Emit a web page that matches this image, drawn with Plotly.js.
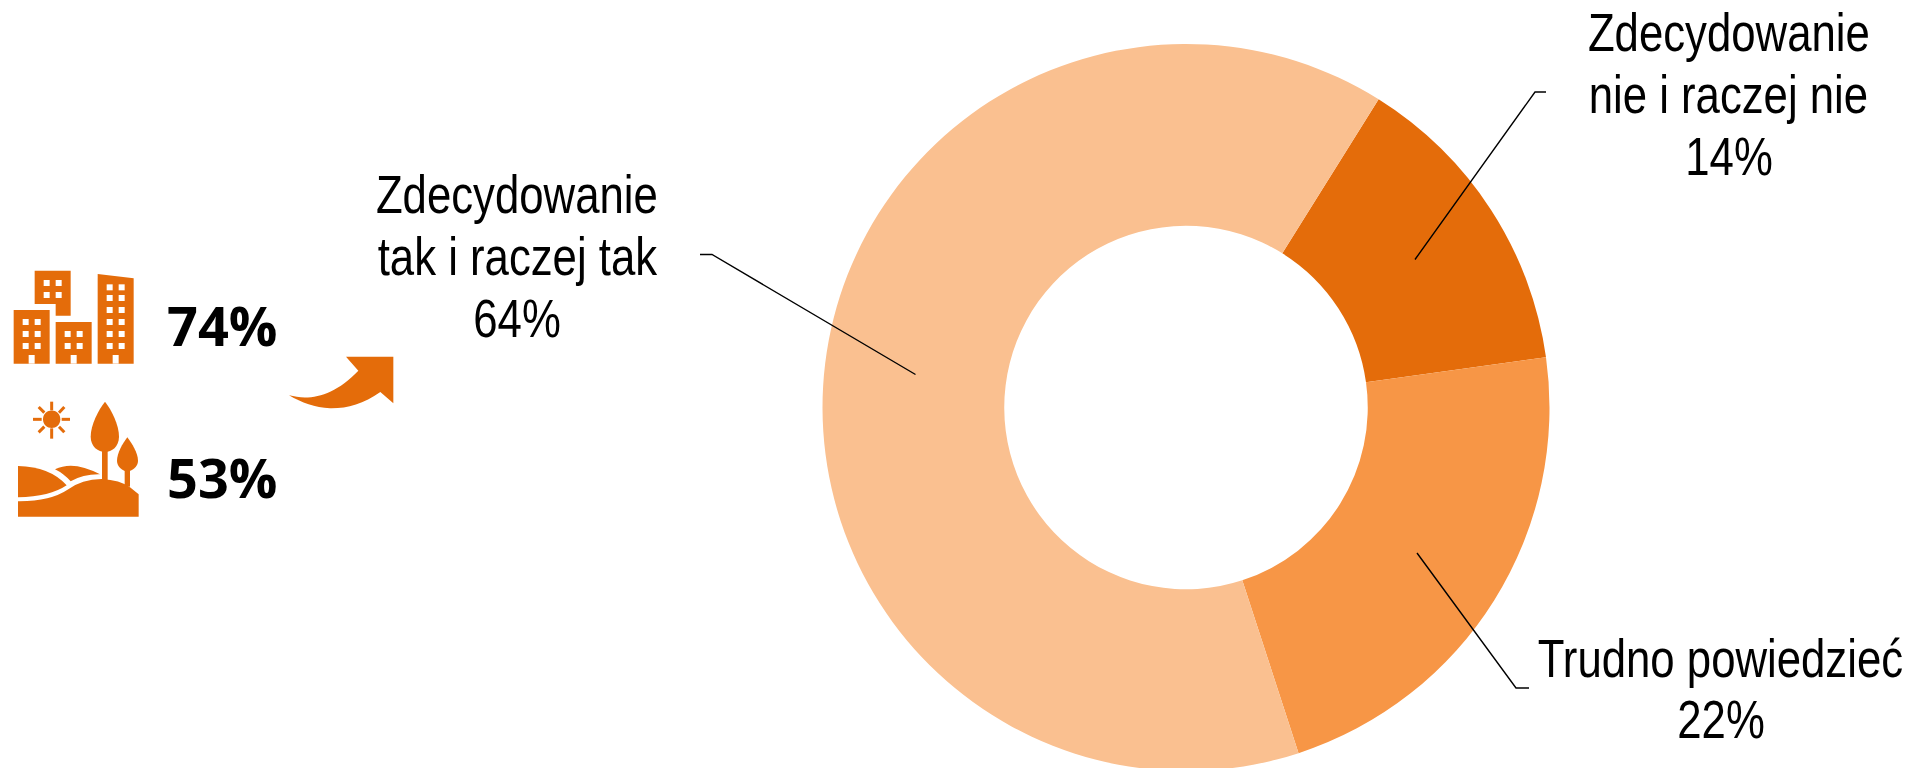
<!DOCTYPE html>
<html><head><meta charset="utf-8">
<script src="https://cdn.plot.ly/plotly-3.0.1.min.js"></script>
<style>html,body{margin:0;padding:0;background:#fff;width:1919px;height:768px;overflow:hidden}</style>
</head><body><div id="chart" style="width:1919px;height:815px"></div>
<script>
const categories = ["Zdecydowanie nie i raczej nie", "Trudno powiedzieć", "Zdecydowanie tak i raczej tak"];
const values = [13.9, 22.2, 63.9];
const sliceColors = ["#E46C0A", "#F79646", "#FAC090"];
const labelLines = [["Zdecydowanie", "nie i raczej nie"], ["Trudno powiedzieć"], ["Zdecydowanie", "tak i raczej tak"]];
const labelCenterX = [1728.5, 1720.5, 517];
const labelTopY = [33, 658, 195];
const sideValues = ["74%", "53%"];
const sideValueY = [325, 477];

const W = 1919, H = 815;
const LINE = 61.5, FS = 53, NARROW = 0.825;
const X = x => x / W, Y = y => 1 - y / H;
const black = "#000", orange = "#E46C0A";

const shapes = [];
const annotations = [];

function pathFrom(cmds, tx, ty) {
  return cmds.map(c => {
    if (typeof c === "string") return c;
    return X(tx(c[0])) + "," + Y(ty(c[1]));
  }).join(" ").replace(/ ([MLQCZ]) /g, " $1").replace(/^([MLQCZ]) /, "$1");
}
function addPath(cmds, fill, tx, ty) {
  shapes.push({type: "path", xref: "paper", yref: "paper", path: pathFrom(cmds, tx, ty),
    fillcolor: fill, line: {width: 0}});
}
const zx = x => x / 3, zy = y => 250 + y / 3;
function poly(pts, fill) {
  const c = [];
  pts.forEach((p, i) => { c.push(i ? "L" : "M"); c.push(p); });
  c.push("Z");
  addPath(c, fill || orange, zx, zy);
}
function rect(x0, y0, x1, y1, fill) {
  poly([[x0, y0], [x1, y0], [x1, y1], [x0, y1]], fill);
}
function windows(cols, rows) {
  cols.forEach(c => rows.forEach(r => rect(c, r, c + 18, r + 18, "#fff")));
}
function seg(pts, width, color) {
  const c = [];
  pts.forEach((p, i) => { c.push(i ? "L" : "M"); c.push(p); });
  shapes.push({type: "path", xref: "paper", yref: "paper", path: pathFrom(c, zx, zy),
    line: {width: width, color: color}});
}

// buildings icon
poly([[104,62],[212,62],[212,197],[167,197],[167,162],[104,162]]);
windows([131,167],[90,126]);
rect(41,180,149,341); rect(86,315,104,341,"#fff"); windows([68,104],[207,243,279]);
rect(167,216,275,341); rect(212,315,230,341,"#fff"); windows([194,230],[243,279]);
poly([[293,72],[401,85],[401,341],[293,341]]); rect(338,315,356,341,"#fff");
windows([320,356],[103,135,171,207,243,279]);

// arrow icon
addPath(["M",[867,436],"C",[930,452],[1000,440],[1075,362],"L",[1038,320],"L",[1180,320],"L",[1180,460],"L",[1141,426],
  "C",[1090,462],[1040,476],[990,475],"C",[945,473],[905,458],[867,436],"Z"], orange, zx, zy);

// landscape icon: sun
addPath(["M",[129,508],"C",[129,473],[181,473],[181,508],"C",[181,543],[129,543],[129,508],"Z"], orange, zx, zy);
[[[155,455],[155,481]],[[155,535],[155,566]],[[99,508],[125,508]],[[185,508],[210,508]],
 [[116,471],[133,488]],[[193,471],[177,488]],[[116,547],[133,530]],[[193,547],[177,530]]]
 .forEach(s => seg(s, 3, orange));
// trees
addPath(["M",[315,455],"C",[295,480],[272,525],[272,560],"C",[272,590],[295,606],[315,606],"C",[335,606],[357,590],[357,560],"C",[357,525],[335,480],[315,455],"Z"], orange, zx, zy);
rect(306,600,323,695);
addPath(["M",[382,562],"C",[368,580],[351,610],[351,632],"C",[351,650],[368,664],[382,664],"C",[396,664],[414,650],[414,632],"C",[414,610],[396,580],[382,562],"Z"], orange, zx, zy);
rect(374,660,390,710);
// hills
addPath(["M",[54,754],"Q",[150,755],[205,718],"Q",[245,688],[305,687],"Q",[360,690],[390,712],"L",[416,733],"L",[416,800],"L",[54,800],"Z"], orange, zx, zy);
addPath(["M",[54,648],"Q",[150,650],[200,706],"Q",[150,740],[54,742],"Z"], orange, zx, zy);
addPath(["M",[165,658],"Q",[220,630],[300,673],"Q",[250,672],[212,694],"Q",[190,670],[165,658],"Z"], orange, zx, zy);

// leader lines
const leaders = [
  [[1546,92],[1535,92],[1415,259.5]],
  [[1529,688],[1516,688],[1417,553]],
  [[700,254.5],[712,254.5],[915.5,374.5]]
];
leaders.forEach(l => {
  shapes.push({type: "path", xref: "paper", yref: "paper",
    path: l.map((p, i) => (i ? "L" : "M") + X(p[0]) + "," + Y(p[1])).join(" "),
    line: {width: 1.4, color: black}});
});

// slice labels
categories.forEach((cat, i) => {
  const lines = labelLines[i].concat([Math.round(values[i]) + "%"]);
  lines.forEach((t, j) => annotations.push({
    xref: "paper", yref: "paper", x: X(labelCenterX[i]), y: Y(labelTopY[i] + j * LINE),
    xanchor: "center", yanchor: "middle", showarrow: false, text: t,
    font: {family: "'Liberation Sans',Arial,sans-serif", size: FS, color: black}
  }));
});
// side figures
sideValues.forEach((t, i) => annotations.push({
  xref: "paper", yref: "paper", x: X(165), y: Y(sideValueY[i]),
  xanchor: "left", yanchor: "middle", showarrow: false, text: "<b>" + t + "</b>",
  font: {family: "'Open Sans',sans-serif", size: 54, color: black}
}));

Plotly.newPlot("chart", [{
  type: "pie", labels: categories, values: values, sort: false, direction: "clockwise",
  rotation: 32, hole: 0.5, textinfo: "none", hoverinfo: "label+percent",
  marker: {colors: sliceColors, line: {width: 0}},
  domain: {x: [X(822.5), X(1549.5)], y: [Y(771), Y(44)]}
}], {
  width: W, height: H, margin: {l: 0, r: 0, t: 0, b: 0},
  paper_bgcolor: "#fff", showlegend: false, shapes: shapes, annotations: annotations
}, {displayModeBar: false, staticPlot: true}).then(gd => {
  // the reference labels use a condensed face: narrow the real text about its own centre
  gd.querySelectorAll(".annotation-text").forEach(el => {
    const t = el.textContent;
    if (t.indexOf("74") === 0 || t.indexOf("53") === 0) return;
    const b = el.getBBox();
    const cx = b.x + b.width / 2;
    el.setAttribute("transform", "translate(" + cx + " 0) scale(" + NARROW + " 1) translate(" + (-cx) + " 0)");
  });
});
</script></body></html>
